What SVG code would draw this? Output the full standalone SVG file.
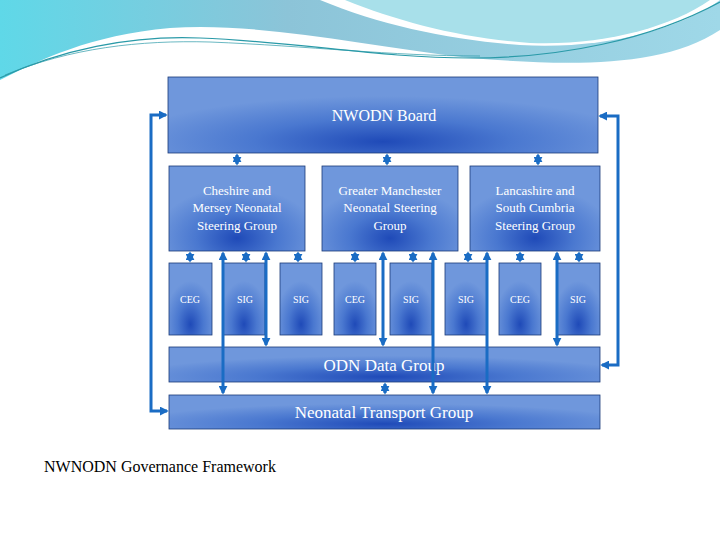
<svg xmlns="http://www.w3.org/2000/svg" width="720" height="540" viewBox="0 0 720 540">
<defs>
<radialGradient id="g" cx="0.5" cy="0.85" r="0.6">
<stop offset="0" stop-color="#1f4ab8"/><stop offset="0.5" stop-color="#4a78d0"/><stop offset="1" stop-color="#6f97dc"/>
</radialGradient>
<linearGradient id="sky" x1="0" y1="0" x2="1" y2="0"><stop offset="0" stop-color="#5fd8e8"/><stop offset="0.4" stop-color="#8cc4d8"/><stop offset="1" stop-color="#9fd8e8"/></linearGradient>
<marker id="a" viewBox="0 0 10 10" refX="8" refY="5" markerWidth="3" markerHeight="3" orient="auto-start-reverse"><path d="M0,0L10,5L0,10z" fill="#1a6cc4"/></marker>
<style>
.b{fill:url(#g);stroke:#1a3a78;stroke-width:0.8}
.t{font-family:"Liberation Serif",serif;fill:#fff;text-anchor:middle}
.c{fill:none;stroke:#1a6cc4;stroke-width:3;marker-start:url(#a);marker-end:url(#a)}
</style>
</defs>
<rect width="720" height="540" fill="#fff"/>
<path d="M0,0H720V30C660,70 560,65 470,58C360,45 260,22 170,28C90,35 40,60 0,80Z" fill="url(#sky)"/>
<path d="M320,0C380,25 450,40 520,45C600,50 680,30 720,0Z" fill="#fff"/>
<path d="M345,0C400,22 460,38 530,43C600,46 670,28 710,0Z" fill="#a8e0ea"/>
<path d="M0,78C60,50 130,35 200,38C300,42 380,58 470,58C560,58 650,40 720,2" fill="none" stroke="#2a9aa8" stroke-width="1.2"/>
<path d="M5,75C70,48 140,40 210,42C310,46 390,56 480,56" fill="none" stroke="#2a9aa8" stroke-width="0.7"/>
<g id="board"><rect class="b" x="168" y="77" width="430" height="76"/><text class="t" x="384" y="121" font-size="16">NWODN Board</text></g>
<g id="cheshire"><rect class="b" x="169" y="166" width="136" height="85"/><text class="t" font-size="13"><tspan x="237" y="195">Cheshire and</tspan><tspan x="237" y="212">Mersey Neonatal</tspan><tspan x="237" y="230">Steering Group</tspan></text></g>
<g id="manchester"><rect class="b" x="322" y="166" width="136" height="85"/><text class="t" font-size="13"><tspan x="390" y="195">Greater Manchester</tspan><tspan x="390" y="212">Neonatal Steering</tspan><tspan x="390" y="230">Group</tspan></text></g>
<g id="lancashire"><rect class="b" x="470" y="166" width="130" height="85"/><text class="t" font-size="13"><tspan x="535" y="195">Lancashire and</tspan><tspan x="535" y="212">South Cumbria</tspan><tspan x="535" y="230">Steering Group</tspan></text></g>
<g id="ceg1"><rect class="b" x="169" y="263" width="43" height="72"/><text class="t" x="190" y="303" font-size="10">CEG</text></g>
<g id="sig1"><rect class="b" x="223" y="263" width="42" height="72"/><text class="t" x="245" y="303" font-size="10">SIG</text></g>
<g id="sig2"><rect class="b" x="280" y="263" width="42" height="72"/><text class="t" x="301" y="303" font-size="10">SIG</text></g>
<g id="ceg2"><rect class="b" x="334" y="263" width="42" height="72"/><text class="t" x="355" y="303" font-size="10">CEG</text></g>
<g id="sig3"><rect class="b" x="390" y="263" width="42" height="72"/><text class="t" x="411" y="303" font-size="10">SIG</text></g>
<g id="sig4"><rect class="b" x="445" y="263" width="42" height="72"/><text class="t" x="466" y="303" font-size="10">SIG</text></g>
<g id="ceg3"><rect class="b" x="499" y="263" width="42" height="72"/><text class="t" x="520" y="303" font-size="10">CEG</text></g>
<g id="sig5"><rect class="b" x="557" y="263" width="43" height="72"/><text class="t" x="578" y="303" font-size="10">SIG</text></g>
<g id="data"><rect class="b" x="169" y="347" width="431" height="35"/><text class="t" x="384" y="371" font-size="17">ODN Data Group</text></g>
<g id="transport"><rect class="b" x="169" y="395" width="431" height="34"/><text class="t" x="384" y="418" font-size="17">Neonatal Transport Group</text></g>
<g id="connectors">
<path class="c" d="M237,155V164"/><path class="c" d="M387,155V164"/><path class="c" d="M538,155V164"/>
<path class="c" d="M190,253V261"/><path class="c" d="M246,253V261"/><path class="c" d="M298,253V261"/><path class="c" d="M355,253V261"/><path class="c" d="M413,253V261"/><path class="c" d="M468,253V261"/><path class="c" d="M520,253V261"/><path class="c" d="M579,253V261"/>
<path class="c" d="M223,253V393"/><path class="c" d="M266,253V345"/><path class="c" d="M383,253V345"/><path class="c" d="M433,253V393"/><path class="c" d="M487,253V393"/><path class="c" d="M557,253V345"/><path class="c" d="M385,384V393"/>
<path class="c" d="M166,115H151V411H167"/>
<path class="c" d="M600,116H618V365H602"/>
</g>
<text x="44" y="472" font-family="Liberation Serif,serif" font-size="16" fill="#000">NWNODN Governance Framework</text>
</svg>
